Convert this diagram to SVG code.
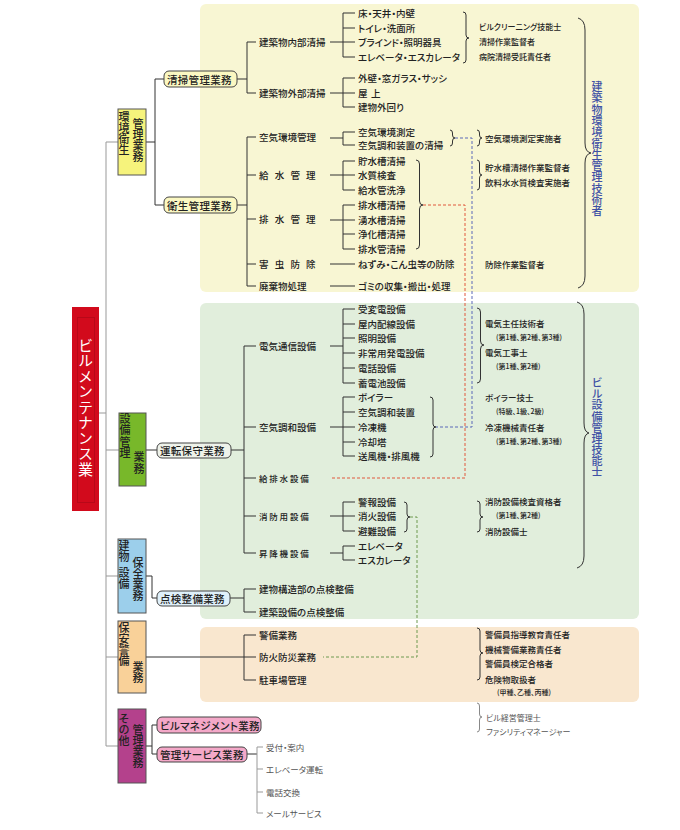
<svg xmlns="http://www.w3.org/2000/svg" width="680" height="830" viewBox="0 0 680 830">
<style>
text{font-family:"Noto Sans CJK JP","Noto Sans CJK SC",sans-serif;dominant-baseline:central;font-feature-settings:"palt";fill:#222;font-weight:500}
.vt{writing-mode:vertical-rl;font-feature-settings:normal}
.t{font-size:9.5px}
.sp2{font-size:8.5px;letter-spacing:1.8px}
.q{font-size:8.5px}
.q8{font-size:8px}
.s{font-size:7px}
.v{font-size:11px;fill:#3f51a5}
.c{font-size:11px}
.b{font-size:10.5px;letter-spacing:0.3px}
.g{font-size:8.5px;fill:#555;font-weight:400}
.ln{fill:none;stroke:#333;stroke-width:1}
.gl{fill:none;stroke:#999;stroke-width:1}
.br{fill:none;stroke:#333;stroke-width:1}
.cat{stroke:#555;stroke-width:1}
.rb{stroke:#444;stroke-width:1}
</style>

<g id="panels">
<rect x="200" y="4" width="439" height="288" rx="6" fill="#f8f6d3"/>
<rect x="200" y="303" width="439" height="316" rx="6" fill="#e1eedc"/>
<rect x="200" y="627" width="439" height="75" rx="6" fill="#f9e7cf"/>
</g>

<g id="connectors">
<path class="gl" d="M106 142 V746 M106 142 H118 M106 450 H119 M106 576 H118 M106 657 H118 M106 746 H118 M99 413 H106"/>
<path class="ln" d="M146 142 H155 M155 79 V205 M155 79 H164 M155 205 H164"/>
<path class="ln" d="M237 79 H247 M247 42 V93 M247 42 H256 M247 93 H256"/>
<path class="ln" d="M237 205 H247 M247 137 V286 M247 137 H256 M247 175 H256 M247 219 H256 M247 264 H256 M247 286 H256"/>
<path class="ln" d="M330 42 H343 M343 13 V57 M343 13 H355 M343 28 H355 M343 42 H355 M343 57 H355"/>
<path class="ln" d="M330 93 H343 M343 78 V107 M343 78 H355 M343 93 H355 M343 107 H355"/>
<path class="ln" d="M330 138 H343 M343 132 V145 M343 132 H355 M343 145 H355"/>
<path class="ln" d="M330 175 H343 M343 161 V190 M343 161 H355 M343 175 H355 M343 190 H355"/>
<path class="ln" d="M330 220 H343 M343 205 V249 M343 205 H355 M343 220 H355 M343 234 H355 M343 249 H355"/>
<path class="ln" d="M330 264 H355 M330 286 H355"/>
<path class="ln" d="M146 450 H157 M231 450 H244 M244 346 V553 M244 346 H256 M244 427 H256 M244 478 H256 M244 516 H256 M244 553 H256"/>
<path class="ln" d="M330 346 H343 M343 309 V383 M343 309 H355 M343 324 H355 M343 338 H355 M343 353 H355 M343 368 H355 M343 383 H355"/>
<path class="ln" d="M330 427 H343 M343 397 V456 M343 397 H355 M343 412 H355 M343 427 H355 M343 442 H355 M343 456 H355"/>
<path class="ln" d="M330 516 H343 M343 502 V531 M343 502 H355 M343 516 H355 M343 531 H355"/>
<path class="ln" d="M330 553 H343 M343 546 V560 M343 546 H355 M343 560 H355"/>
<path class="ln" d="M146 576 H152 V598 H157 M230 598 H244 M244 589 V612 M244 589 H256 M244 612 H256"/>
<path class="ln" d="M146 657 H244 M244 635 V680 M244 635 H256 M244 657 H256 M244 680 H256"/>
<path class="ln" d="M146 746 H152 M152 725 V754 M152 725 H157 M152 754 H157 M247 754 H257"/>
<path class="gl" d="M257 747 V813 M257 747 H263 M257 769 H263 M257 792 H263 M257 813 H263"/>
<path fill="none" stroke="#5a69b8" stroke-width="1" stroke-dasharray="3 2" d="M455 138 H472 V427 H436"/>
<path fill="none" stroke="#e0583c" stroke-width="1" stroke-dasharray="3 2" d="M423 205 H465 V478 H330"/>
<path fill="none" stroke="#6f9a50" stroke-width="1" stroke-dasharray="3 2" d="M410 517 H417 V657 H323"/>
<path class="br" d="M463 12 Q466 12 466 15 L466 35 Q466 38 469 38 Q466 38 466 41 L466 60 Q466 63 463 63"/>
<path class="br" d="M450 130 Q452.5 130 452.5 133 L452.5 135 Q452.5 138 455 138 Q452.5 138 452.5 141 L452.5 143 Q452.5 146 450 146"/>
<path class="br" d="M477 130 Q479.5 130 479.5 133 L479.5 135 Q479.5 138 482 138 Q479.5 138 479.5 141 L479.5 143 Q479.5 146 477 146"/>
<path class="br" d="M416 160 Q419.5 160 419.5 164 L419.5 201 Q419.5 205 423 205 Q419.5 205 419.5 209 L419.5 245 Q419.5 249 416 249"/>
<path class="br" d="M477 160 Q479.5 160 479.5 163 L479.5 172 Q479.5 175 482 175 Q479.5 175 479.5 178 L479.5 187 Q479.5 190 477 190"/>
<path class="br" d="M578 18 Q585 20 585 30 L585 143 Q585 152 591 153 Q585 154 585 163 L585 276 Q585 286 578 288"/>
<path class="br" d="M477 308 Q480.5 308 480.5 312 L480.5 341 Q480.5 345 484 345 Q480.5 345 480.5 349 L480.5 379 Q480.5 383 477 383"/>
<path class="br" d="M430 397 Q433 397 433 400 L433 424 Q433 427 436 427 Q433 427 433 430 L433 454 Q433 457 430 457"/>
<path class="br" d="M404 502 Q407 502 407 505 L407 514 Q407 517 410 517 Q407 517 407 520 L407 529 Q407 532 404 532"/>
<path class="br" d="M477 501 Q480 501 480 504 L480 514 Q480 517 483 517 Q480 517 480 520 L480 529 Q480 532 477 532"/>
<path class="br" d="M577 302 Q584 304 584 314 L584 423 Q584 432 589 433 Q584 434 584 443 L584 556 Q584 566 577 568"/>
<path class="br" d="M477 628 Q480 628 480 631 L480 650 Q480 653 483 653 Q480 653 480 656 L480 677 Q480 680 477 680"/>
<path fill="none" stroke="#888" stroke-width="1" d="M477 703 Q479.5 703 479.5 706 L479.5 714 Q479.5 717 482 717 Q479.5 717 479.5 720 L479.5 729 Q479.5 732 477 732"/>
</g>

<g id="root">
<rect x="72" y="307" width="27" height="204" fill="#d20a1c"/>
<rect x="77.5" y="317.5" width="17" height="185" fill="none" stroke="#000" stroke-opacity="0.12"/>
<text class="vt" x="85.5" y="337.5" style="font-size:15px;letter-spacing:0.5px;fill:#fff;font-weight:400">ビルメンテナンス業</text>
</g>

<g id="cat-env">
<rect class="cat" x="118" y="109" width="28" height="66" fill="#f6f37c"/>
<text class="c vt" x="124" y="111.5">環境衛生</text>
<text class="c vt" x="138" y="118.5">管理業務</text>
</g>
<g id="cat-equip">
<rect class="cat" x="119" y="413" width="27" height="73" fill="#78b82a"/>
<text class="c vt" x="125" y="413.5" style="letter-spacing:0.3px">設備管理</text>
<text class="c vt" x="139" y="451.5" style="letter-spacing:1px">業務</text>
</g>
<g id="cat-building">
<rect class="cat" x="118" y="539" width="28" height="74" fill="#9ccfeb"/>
<text class="c vt" x="124" y="540.5">建物</text>
<text class="c vt" x="124" y="567.5">設備</text>
<text class="c vt" x="138" y="557.5">保全業務</text>
</g>
<g id="cat-security">
<rect class="cat" x="118" y="621" width="28" height="72" fill="#f9d199"/>
<text class="c vt" x="124" y="622.5">保安警備</text>
<text class="c vt" x="138" y="661.5">業務</text>
</g>
<g id="cat-other">
<rect class="cat" x="118" y="709" width="28" height="74" fill="#b4418c"/>
<text class="c vt" x="124" y="713.5">その他</text>
<text class="c vt" x="138" y="724.5">管理業務</text>
</g>

<g id="sub-boxes">
<g id="seisou"><rect class="rb" x="164" y="71" width="73" height="16" rx="5" fill="#fbf8c2"/><text class="b" x="167" y="79">清掃管理業務</text></g>
<g id="eisei"><rect class="rb" x="164" y="197" width="73" height="16" rx="5" fill="#fbf8c2"/><text class="b" x="167" y="205">衛生管理業務</text></g>
<g id="unten"><rect class="rb" x="157" y="443" width="74" height="15" rx="5" fill="#eef2ea"/><text class="b" x="160" y="450.5">運転保守業務</text></g>
<g id="tenken"><rect class="rb" x="157" y="591" width="73" height="15" rx="5" fill="#dff0fa"/><text class="b" x="160" y="598.5">点検整備業務</text></g>
<g id="bm"><rect class="rb" x="157" y="717" width="104" height="16" rx="5" fill="#f4a8c8"/><text class="b" x="160" y="725">ビルマネジメント業務</text></g>
<g id="kanri"><rect class="rb" x="157" y="747" width="90" height="15" rx="5" fill="#f4a8c8"/><text class="b" x="160" y="754.5">管理サービス業務</text></g>
</g>

<g id="level2">
<text class="t" x="259" y="42">建築物内部清掃</text>
<text class="t" x="259" y="93">建築物外部清掃</text>
<text class="t" x="259" y="137">空気環境管理</text>
<text class="t" x="259" y="175" style="letter-spacing:6.2px">給水管理</text>
<text class="t" x="259" y="219" style="letter-spacing:6.2px">排水管理</text>
<text class="t" x="259" y="264" style="letter-spacing:6.2px">害虫防除</text>
<text class="t" x="259" y="286">廃棄物処理</text>
<text class="t" x="259" y="346">電気通信設備</text>
<text class="t" x="259" y="427">空気調和設備</text>
<text class="sp2" x="259" y="478">給排水設備</text>
<text class="sp2" x="259" y="516">消防用設備</text>
<text class="sp2" x="259" y="553">昇降機設備</text>
<text class="t" x="259" y="589">建物構造部の点検整備</text>
<text class="t" x="259" y="612">建築設備の点検整備</text>
<text class="t" x="259" y="635">警備業務</text>
<text class="t" x="259" y="657">防火防災業務</text>
<text class="t" x="259" y="680">駐車場管理</text>
<text class="g" x="266" y="747">受付・案内</text>
<text class="g" x="266" y="769">エレベータ運転</text>
<text class="g" x="266" y="792">電話交換</text>
<text class="g" x="266" y="813">メールサービス</text>
</g>

<g id="level3">
<text class="t" x="358" y="13">床・天井・内壁</text>
<text class="t" x="358" y="28">トイレ・洗面所</text>
<text class="t" x="358" y="42">ブラインド・照明器具</text>
<text class="t" x="358" y="57">エレベータ・エスカレータ</text>
<text class="t" x="358" y="78">外壁・窓ガラス・サッシ</text>
<text class="t" x="358" y="93">屋<tspan x="371">上</tspan></text>
<text class="t" x="358" y="107">建物外回り</text>
<text class="t" x="358" y="132">空気環境測定</text>
<text class="t" x="358" y="145">空気調和装置の清掃</text>
<text class="t" x="358" y="161">貯水槽清掃</text>
<text class="t" x="358" y="175">水質検査</text>
<text class="t" x="358" y="190">給水管洗浄</text>
<text class="t" x="358" y="205">排水槽清掃</text>
<text class="t" x="358" y="220">湧水槽清掃</text>
<text class="t" x="358" y="234">浄化槽清掃</text>
<text class="t" x="358" y="249">排水管清掃</text>
<text class="t" x="358" y="264">ねずみ・こん虫等の防除</text>
<text class="t" x="358" y="286">ゴミの収集・搬出・処理</text>
<text class="t" x="358" y="309">受変電設備</text>
<text class="t" x="358" y="324">屋内配線設備</text>
<text class="t" x="358" y="338">照明設備</text>
<text class="t" x="358" y="353">非常用発電設備</text>
<text class="t" x="358" y="368">電話設備</text>
<text class="t" x="358" y="383">蓄電池設備</text>
<text class="t" x="358" y="397">ボイラー</text>
<text class="t" x="358" y="412">空気調和装置</text>
<text class="t" x="358" y="427">冷凍機</text>
<text class="t" x="358" y="442">冷却塔</text>
<text class="t" x="358" y="456">送風機・排風機</text>
<text class="t" x="358" y="502">警報設備</text>
<text class="t" x="358" y="516">消火設備</text>
<text class="t" x="358" y="531">避難設備</text>
<text class="t" x="358" y="546">エレベータ</text>
<text class="t" x="358" y="560">エスカレータ</text>
</g>

<g id="qualifications">
<text class="q8" x="479" y="26">ビルクリーニング技能士</text>
<text class="q8" x="479" y="41">清掃作業監督者</text>
<text class="q8" x="479" y="56">病院清掃受託責任者</text>
<text class="q" x="485" y="138">空気環境測定実施者</text>
<text class="q" x="485" y="167">貯水槽清掃作業監督者</text>
<text class="q" x="485" y="182">飲料水水質検査実施者</text>
<text class="q" x="485" y="264">防除作業監督者</text>
<text class="q" x="485" y="323">電気主任技術者</text>
<text class="s" x="496" y="337">(第1種、第2種、第3種)</text>
<text class="q" x="485" y="352">電気工事士</text>
<text class="s" x="496" y="366">(第1種、第2種)</text>
<text class="q" x="485" y="397">ボイラー技士</text>
<text class="s" x="496" y="411">(特級、1級、2級)</text>
<text class="q" x="485" y="427">冷凍機械責任者</text>
<text class="s" x="496" y="441">(第1種、第2種、第3種)</text>
<text class="q" x="485" y="501">消防設備検査資格者</text>
<text class="s" x="496" y="515">(第1種、第2種)</text>
<text class="q" x="485" y="531">消防設備士</text>
<text class="q" x="485" y="634">警備員指導教育責任者</text>
<text class="q" x="485" y="649">機械警備業務責任者</text>
<text class="q" x="485" y="663">警備員検定合格者</text>
<text class="q" x="485" y="679">危険物取扱者</text>
<text class="s" x="497" y="692">(甲種、乙種、丙種)</text>
<text class="g" x="486" y="717" style="font-size:8px">ビル経営管理士</text>
<text class="g" x="486" y="731" style="font-size:8px">ファシリティマネージャー</text>
</g>

<g id="vertical-labels">
<text class="v vt" x="597" y="81.5" style="letter-spacing:0.27px">建築物環境衛生管理技術者</text>
<text class="v vt" x="597" y="377.5" style="letter-spacing:0.12px">ビル設備管理技能士</text>
</g>
</svg>
